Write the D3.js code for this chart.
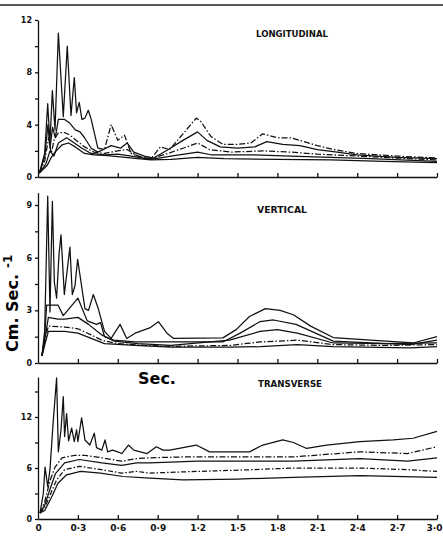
<!DOCTYPE html>
<html>
<head>
<meta charset="utf-8">
<title>Velocity records</title>
<script src="https://d3js.org/d3.v7.min.js"></script>
<style>
  body { margin: 0; background: #fff; }
  svg { display: block; font-family: "DejaVu Sans", Arial, sans-serif; }
  .ser { fill: none; stroke: #111; stroke-width: 1.25; stroke-linejoin: round; }
  .ax path, .ax line { stroke: #111; stroke-width: 1.3; }
  .ax text { font-weight: bold; font-size: 8px; fill: #111; font-family: "DejaVu Sans", Arial, sans-serif; }
  .ttl { font-weight: bold; font-size: 8px; fill: #111; }
</style>
</head>
<body>
<svg id="chart" width="443" height="536"></svg>
<script>
// time axis, seconds
var xTicks = [0, 0.3, 0.6, 0.9, 1.2, 1.5, 1.8, 2.1, 2.4, 2.7, 3.0];
var xTickLabels = ["0", "0·3", "0·6", "0·9", "1·2", "1·5", "1·8", "2·1", "2·4", "2·7", "3·0"];

// y ticks (cm/sec) per panel
var longYTicks = [0, 2, 4, 6, 8, 10, 12];
var longYLabels = [0, 4, 8, 12];
var vertYTicks = [0, 1.5, 3, 4.5, 6, 7.5, 9];
var vertYLabels = [0, 3, 6, 9];
var tranYTicks = [0, 3, 6, 9, 12, 15];
var tranYLabels = [0, 6, 12];

// LONGITUDINAL, five curves [t, v]
var longA = [[0.01,0.3],[0.05,1.8],[0.073,5.6],[0.09,2.6],[0.108,6.6],[0.128,3.6],[0.153,11.0],[0.19,4.6],[0.22,10.0],[0.248,4.7],[0.273,7.6],[0.29,4.9],[0.31,5.7],[0.33,4.4],[0.353,4.5],[0.378,5.1],[0.40,4.4],[0.45,2.2],[0.5,2.1],[0.55,4.0],[0.60,2.8],[0.65,3.2],[0.70,1.8],[0.78,1.5],[0.85,1.4],[0.92,2.3],[0.99,2.1],[1.09,3.3],[1.19,4.5],[1.22,4.3],[1.3,3.1],[1.39,2.5],[1.5,2.5],[1.6,2.6],[1.69,3.3],[1.8,3.0],[1.9,3.0],[2.0,2.7],[2.1,2.4],[2.22,2.1],[2.4,1.8],[2.7,1.6],[3.0,1.45]];
var longB = [[0.01,0.3],[0.05,1.5],[0.075,4.0],[0.09,2.2],[0.11,3.8],[0.13,3.0],[0.153,4.4],[0.2,4.4],[0.24,4.1],[0.28,3.6],[0.316,3.45],[0.35,3.0],[0.40,2.2],[0.45,1.9],[0.55,2.4],[0.62,2.2],[0.67,2.6],[0.72,1.9],[0.8,1.6],[0.87,1.45],[0.97,2.05],[1.09,2.8],[1.2,3.45],[1.27,2.8],[1.37,2.3],[1.5,2.2],[1.63,2.3],[1.72,2.7],[1.84,2.5],[1.97,2.4],[2.1,2.1],[2.25,1.9],[2.4,1.7],[2.7,1.5],[3.0,1.4]];
var longC = [[0.01,0.3],[0.05,1.2],[0.08,3.0],[0.1,1.8],[0.12,2.8],[0.153,3.4],[0.2,3.4],[0.24,3.2],[0.30,2.7],[0.35,2.3],[0.42,1.9],[0.5,1.8],[0.6,2.0],[0.67,2.1],[0.75,1.6],[0.85,1.4],[0.99,1.85],[1.09,2.2],[1.2,2.6],[1.29,2.1],[1.45,1.9],[1.69,2.0],[1.9,1.9],[2.1,1.75],[2.4,1.6],[2.7,1.45],[3.0,1.3]];
var longD = [[0.01,0.3],[0.06,1.0],[0.09,2.0],[0.12,1.6],[0.153,2.6],[0.215,3.0],[0.26,2.7],[0.33,2.2],[0.40,1.8],[0.5,1.7],[0.6,1.75],[0.7,1.6],[0.85,1.35],[1.0,1.6],[1.2,1.9],[1.3,1.7],[1.6,1.7],[1.9,1.6],[2.2,1.5],[2.5,1.4],[3.0,1.2]];
var longE = [[0.01,0.3],[0.07,0.9],[0.1,1.5],[0.128,1.9],[0.18,2.45],[0.23,2.6],[0.28,2.3],[0.35,1.8],[0.42,1.7],[0.5,1.65],[0.6,1.55],[0.75,1.4],[0.85,1.3],[1.0,1.35],[1.2,1.5],[1.4,1.4],[1.8,1.35],[2.2,1.3],[2.6,1.2],[3.0,1.1]];

// VERTICAL
var vertA = [[0.03,0.45],[0.05,1.8],[0.073,9.5],[0.09,2.9],[0.108,9.2],[0.123,4.6],[0.14,3.7],[0.158,6.2],[0.173,7.3],[0.198,3.9],[0.24,6.6],[0.258,3.9],[0.278,4.4],[0.298,5.9],[0.353,3.1],[0.38,3.0],[0.416,3.9],[0.453,3.1],[0.50,1.8],[0.55,1.4],[0.617,2.2],[0.667,1.4],[0.73,1.7],[0.84,2.0],[0.905,2.35],[0.97,1.7],[1.02,1.4],[1.39,1.43],[1.49,1.9],[1.59,2.65],[1.71,3.1],[1.82,3.0],[1.92,2.75],[2.05,2.1],[2.22,1.45],[2.5,1.3],[2.82,1.14],[3.0,1.5]];
var vertB = [[0.03,0.4],[0.05,1.5],[0.065,3.3],[0.113,3.3],[0.15,3.3],[0.19,2.7],[0.30,3.7],[0.37,2.4],[0.44,2.2],[0.47,2.3],[0.5,1.5],[0.57,1.3],[0.73,1.2],[0.9,1.2],[1.0,1.2],[1.39,1.2],[1.52,1.7],[1.67,2.36],[1.77,2.45],[1.94,2.2],[2.22,1.25],[2.5,1.15],[2.8,1.05],[3.0,1.3]];
var vertC = [[0.03,0.4],[0.05,1.3],[0.078,2.6],[0.15,2.5],[0.2,2.5],[0.30,2.6],[0.38,2.2],[0.48,1.6],[0.57,1.25],[0.75,1.1],[1.0,1.0],[1.44,1.3],[1.67,1.8],[1.8,1.9],[1.95,1.7],[2.22,1.14],[2.6,1.1],[3.0,1.14]];
var vertD = [[0.03,0.4],[0.05,1.2],[0.078,2.1],[0.2,2.05],[0.30,1.95],[0.40,1.6],[0.48,1.3],[0.6,1.1],[0.8,1.0],[1.0,0.95],[1.44,1.0],[1.67,1.2],[1.95,1.3],[2.22,1.05],[2.6,1.0],[3.0,1.05]];
var vertE = [[0.03,0.4],[0.05,1.0],[0.078,1.8],[0.2,1.8],[0.30,1.7],[0.40,1.4],[0.5,1.1],[0.73,1.0],[1.0,0.9],[1.44,0.9],[1.67,0.93],[1.95,1.05],[2.22,0.93],[2.8,0.86],[3.0,0.93]];

// TRANSVERSE
var tranA = [[0.015,0.7],[0.04,3.0],[0.053,6.1],[0.073,3.8],[0.09,5.8],[0.115,11.6],[0.14,16.6],[0.153,7.9],[0.173,10.5],[0.19,14.4],[0.20,9.7],[0.215,12.4],[0.23,9.2],[0.253,10.7],[0.273,9.1],[0.29,10.5],[0.30,9.1],[0.328,11.9],[0.353,9.3],[0.39,8.7],[0.423,10.1],[0.44,8.4],[0.48,8.1],[0.504,9.3],[0.524,7.9],[0.56,8.1],[0.60,7.9],[0.63,7.7],[0.68,8.7],[0.72,8.1],[0.82,7.7],[0.89,8.5],[0.94,8.1],[0.99,8.1],[1.19,8.7],[1.29,7.9],[1.59,7.9],[1.69,8.7],[1.84,9.3],[1.92,9.0],[2.02,8.3],[2.17,8.7],[2.42,9.1],[2.67,9.3],[2.82,9.5],[3.0,10.3]];
var tranB = [[0.015,0.7],[0.05,2.0],[0.09,4.5],[0.128,6.1],[0.18,7.2],[0.28,7.5],[0.35,7.5],[0.48,7.2],[0.63,6.8],[0.74,7.1],[0.84,7.2],[1.09,7.3],[1.5,7.3],[1.92,7.3],[2.42,7.9],[2.78,7.7],[3.0,8.5]];
var tranC = [[0.015,0.7],[0.05,1.6],[0.09,3.5],[0.13,5.3],[0.2,6.6],[0.31,7.0],[0.48,6.6],[0.63,6.3],[0.74,6.6],[0.84,6.6],[1.2,6.8],[1.6,6.8],[1.92,6.8],[2.42,7.1],[2.78,6.8],[3.0,7.2]];
var tranD = [[0.015,0.7],[0.05,1.3],[0.09,2.8],[0.14,4.6],[0.2,5.8],[0.31,6.2],[0.48,5.8],[0.63,5.4],[0.74,5.6],[0.84,5.4],[1.2,5.6],[1.6,5.8],[1.92,6.0],[2.42,6.0],[2.78,5.8],[3.0,5.6]];
var tranE = [[0.015,0.7],[0.05,1.0],[0.1,2.5],[0.15,4.2],[0.215,5.2],[0.32,5.6],[0.47,5.4],[0.64,5.0],[0.84,4.8],[1.09,4.6],[1.5,4.7],[1.92,4.9],[2.42,5.1],[3.0,4.9]];

var dashDot = "6,2,1.5,2";
var svg = d3.select("#chart");
var x = d3.scaleLinear().domain([0, 3]).range([38, 437]);

var panels = [
  { title: "LONGITUDINAL", tx: 256, ty: 37, tlen: 72,
    y: d3.scaleLinear().domain([0, 12]).range([177, 20]), top: 12,
    ticks: longYTicks, labels: longYLabels,
    series: [{ d: longA, solidUntil: 0.45 }, { d: longB }, { d: longC, dash: dashDot }, { d: longD }, { d: longE }] },
  { title: "VERTICAL", tx: 257, ty: 213, tlen: 50,
    y: d3.scaleLinear().domain([0, 9]).range([363, 205]), top: 9.7,
    ticks: vertYTicks, labels: vertYLabels,
    series: [{ d: vertA }, { d: vertB }, { d: vertC }, { d: vertD, dash: dashDot }, { d: vertE }] },
  { title: "TRANSVERSE", tx: 258, ty: 387, tlen: 64,
    y: d3.scaleLinear().domain([0, 12]).range([519, 417]), top: 16.7,
    ticks: tranYTicks, labels: tranYLabels,
    series: [{ d: tranA }, { d: tranB, dash: dashDot }, { d: tranC }, { d: tranD, dash: "5,2,1.5,2" }, { d: tranE }] }
];

// scan border at top
svg.append("line").attr("x1", 0).attr("x2", 443).attr("y1", 5).attr("y2", 5)
  .attr("stroke", "#222").attr("stroke-width", 1.4);

panels.forEach(function(p, i) {
  var g = svg.append("g");
  var line = d3.line().x(function(d) { return x(d[0]); }).y(function(d) { return p.y(d[1]); });

  p.series.forEach(function(s) {
    if (s.solidUntil != null) {
      g.append("path").attr("class", "ser").attr("d", line(s.d.filter(function(d) { return d[0] <= s.solidUntil; })));
      g.append("path").attr("class", "ser").attr("stroke-dasharray", dashDot)
        .attr("d", line(s.d.filter(function(d) { return d[0] >= s.solidUntil; })));
    } else {
      g.append("path").attr("class", "ser").attr("d", line(s.d))
        .attr("stroke-dasharray", s.dash || null);
    }
  });

  // y axis, extended a little past the last tick where the drawing does
  var yAx = p.y.copy().domain([0, p.top]).range([p.y(0), p.y(p.top)]);
  g.append("g").attr("class", "ax").attr("transform", "translate(38,0)")
    .call(d3.axisLeft(yAx).tickValues(p.ticks).tickSize(3).tickSizeOuter(0).tickPadding(3)
      .tickFormat(function(v) { return p.labels.indexOf(v) >= 0 ? v : ""; }));

  // x axis, ticks pointing inward
  g.append("g").attr("class", "ax").attr("transform", "translate(0," + p.y(0) + ")")
    .call(d3.axisTop(x).tickValues(xTicks.slice(1)).tickSize(4).tickSizeOuter(0).tickFormat(""));

  if (i === 2) {
    var lab = g.append("g").attr("class", "ax").attr("transform", "translate(0," + p.y(0) + ")")
      .call(d3.axisBottom(x).tickValues(xTicks).tickSize(0).tickPadding(6)
        .tickFormat(function(v, k) { return xTickLabels[k]; }));
    lab.select(".domain").remove();
    lab.selectAll("text").style("font-size", "9px");
    lab.selectAll("text").filter(function(v) { return v === 3; }).attr("dx", -3);
  }

  g.append("text").attr("class", "ttl").attr("x", p.tx).attr("y", p.ty)
    .attr("textLength", p.tlen).attr("lengthAdjust", "spacingAndGlyphs").text(p.title);
});

svg.append("text").attr("x", 138).attr("y", 384)
  .style("font-weight", "bold").style("font-size", "16px").text("Sec.");

var yl = svg.append("text").attr("transform", "translate(18,352) rotate(-90)")
  .style("font-weight", "bold").style("font-size", "16px");
yl.append("tspan").text("Cm. Sec.");
yl.append("tspan").attr("dx", 6).attr("dy", -6).style("font-size", "12px").text("-1");
</script>
</body>
</html>
